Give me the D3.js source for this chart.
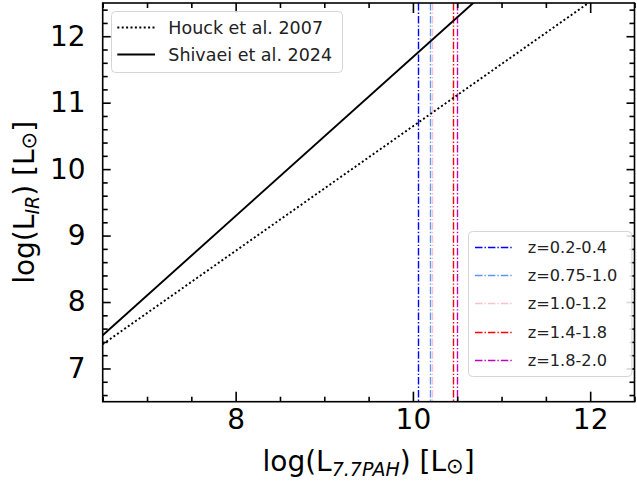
<!DOCTYPE html>
<html><head><meta charset="utf-8">
<script src="https://cdn.jsdelivr.net/npm/d3@7"></script>
<style>
body{margin:0;background:#fff;}
svg{display:block;font-family:"DejaVu Sans",sans-serif;}
</style></head>
<body><svg id="c" width="637" height="483"></svg>
<script>
// ---- data ----
const xDomain = [6.5, 12.5];
const yDomain = [6.5, 12.5];
const xTicks = [8, 10, 12];
const yTicks = [7, 8, 9, 10, 11, 12];
const relNames = ["Houck et al. 2007", "Shivaei et al. 2024"];
const houckX = [6.5, 11.98];
const houckY = [7.365, 12.5];
const shivaeiX = [6.5, 10.68];
const shivaeiY = [7.5, 12.5];
const zLabels = ["z=0.2-0.4", "z=0.75-1.0", "z=1.0-1.2", "z=1.4-1.8", "z=1.8-2.0"];
const zValues = [10.056, 10.19, 10.215, 10.45, 10.494];
const zColors = ["#0000ff", "#6495ed", "#ffc0cb", "#ff0000", "#bf00bf"];

// ---- layout ----
const L = 102.7, R = 634.5, T = 3, B = 401.7;
const svg = d3.select("#c");
const x = d3.scaleLinear().domain(xDomain).range([L, R]);
const y = d3.scaleLinear().domain(yDomain).range([B, T]);
const DASHDOT = "7.5,2,1.4,2";
const DOTS = "2,2.4";

svg.append("defs").append("clipPath").attr("id", "clip")
  .append("rect").attr("x", L).attr("y", T).attr("width", R - L).attr("height", B - T);

const plot = svg.append("g").attr("clip-path", "url(#clip)");

// vertical lines
zValues.forEach((v, i) => {
  const px = Math.round(x(v)) + 0.5;
  plot.append("line").attr("x1", px).attr("x2", px).attr("y1", T).attr("y2", B)
    .attr("stroke", zColors[i]).attr("stroke-width", 1.4)
    .attr("stroke-dasharray", DASHDOT);
});

const line = d3.line().x(d => x(d[0])).y(d => y(d[1]));
plot.append("path").datum(d3.zip(houckX, houckY)).attr("d", line)
  .attr("fill", "none").attr("stroke", "#000").attr("stroke-width", 1.9)
  .attr("stroke-dasharray", DOTS);
plot.append("path").datum(d3.zip(shivaeiX, shivaeiY)).attr("d", line)
  .attr("fill", "none").attr("stroke", "#000").attr("stroke-width", 1.9);

// axes (ticks inward on all four sides)
const xMinor = d3.range(6.5, 12.51, 0.5).filter(v => !xTicks.includes(v));
const yMinor = d3.range(6.6, 12.51, 0.2).map(v => +v.toFixed(1)).filter(v => !yTicks.includes(v));

function styleAxis(g) {
  g.select(".domain").remove();
  g.selectAll("line").attr("stroke", "#000").attr("stroke-width", 1.6);
}
svg.append("g").attr("transform", `translate(0,${B})`)
  .call(d3.axisBottom(x).tickValues(xTicks).tickSize(-10).tickPadding(7).tickFormat(d3.format("d")))
  .call(styleAxis)
  .call(g => g.selectAll("text").attr("font-size", 28).attr("fill", "#000").attr("font-family", "DejaVu Sans"));
svg.append("g").attr("transform", `translate(0,${B})`)
  .call(d3.axisBottom(x).tickValues(xMinor).tickSize(-5).tickFormat("")).call(styleAxis);
svg.append("g").attr("transform", `translate(0,${T})`)
  .call(d3.axisTop(x).tickValues(xTicks).tickSize(-10).tickFormat("")).call(styleAxis);
svg.append("g").attr("transform", `translate(0,${T})`)
  .call(d3.axisTop(x).tickValues(xMinor).tickSize(-5).tickFormat("")).call(styleAxis);

svg.append("g").attr("transform", `translate(${L},0)`)
  .call(d3.axisLeft(y).tickValues(yTicks).tickSize(-8).tickPadding(17).tickFormat(d3.format("d")))
  .call(styleAxis)
  .call(g => g.selectAll("text").attr("font-size", 28).attr("fill", "#000").attr("font-family", "DejaVu Sans"));
svg.append("g").attr("transform", `translate(${L},0)`)
  .call(d3.axisLeft(y).tickValues(yMinor).tickSize(-5).tickFormat("")).call(styleAxis);
svg.append("g").attr("transform", `translate(${R},0)`)
  .call(d3.axisRight(y).tickValues(yTicks).tickSize(-8).tickFormat("")).call(styleAxis);
svg.append("g").attr("transform", `translate(${R},0)`)
  .call(d3.axisRight(y).tickValues(yMinor).tickSize(-5).tickFormat("")).call(styleAxis);

// spines
svg.append("rect").attr("x", L).attr("y", T).attr("width", R - L).attr("height", B - T)
  .attr("fill", "none").attr("stroke", "#000").attr("stroke-width", 1.6);

// axis labels
const xl = svg.append("text").attr("x", (L + R) / 2).attr("y", 471).attr("text-anchor", "middle")
  .attr("font-size", 28).attr("fill", "#000");
xl.append("tspan").text("log(L");
xl.append("tspan").attr("font-size", 19).attr("font-style", "italic").attr("dy", 5).text("7.7PAH");
xl.append("tspan").attr("dy", -5).text(") [L");
xl.append("tspan").attr("font-size", 21).attr("dy", 2).text("⊙");
xl.append("tspan").attr("dy", -2).text("]");

const yl = svg.append("text").attr("transform", `translate(34,${(T + B) / 2}) rotate(-90)`)
  .attr("text-anchor", "middle").attr("font-size", 28).attr("fill", "#000");
yl.append("tspan").text("log(L");
yl.append("tspan").attr("font-size", 19).attr("font-style", "italic").attr("dy", 5).text("IR");
yl.append("tspan").attr("dy", -5).text(") [L");
yl.append("tspan").attr("font-size", 21).attr("dy", 2).text("⊙");
yl.append("tspan").attr("dy", -2).text("]");

// legend 1
const lg1 = svg.append("g");
lg1.append("rect").attr("x", 111.5).attr("y", 11.5).attr("width", 231).attr("height", 61).attr("rx", 4)
  .attr("fill", "#fff").attr("fill-opacity", 0.85).attr("stroke", "#d6d6d6").attr("stroke-width", 1);
const rel1Styles = [{dash: DOTS, w: 1.9}, {dash: null, w: 1.9}];
relNames.forEach((n, i) => {
  const cy = Math.round(26.7 + i * 27.5) + 0.5;
  const ln = lg1.append("line").attr("x1", 117.3).attr("x2", 155).attr("y1", cy).attr("y2", cy)
    .attr("stroke", "#000").attr("stroke-width", rel1Styles[i].w);
  if (rel1Styles[i].dash) ln.attr("stroke-dasharray", rel1Styles[i].dash);
  lg1.append("text").attr("x", 168.3).attr("y", cy).attr("dy", "0.36em")
    .attr("font-size", 17.5).attr("fill", "#222").text(n);
});

// legend 2
const lg2 = svg.append("g");
lg2.append("rect").attr("x", 468.5).attr("y", 231.5).attr("width", 163.4).attr("height", 145).attr("rx", 4)
  .attr("fill", "#fff").attr("fill-opacity", 0.85).attr("stroke", "#d6d6d6").attr("stroke-width", 1);
zLabels.forEach((n, i) => {
  const cy = Math.round(246.7 + i * 28.33) + 0.5;
  lg2.append("line").attr("x1", 475).attr("x2", 511.7).attr("y1", cy).attr("y2", cy)
    .attr("stroke", zColors[i]).attr("stroke-width", 1.4).attr("stroke-dasharray", DASHDOT);
  lg2.append("text").attr("x", 527.7).attr("y", cy).attr("dy", "0.36em")
    .attr("font-size", 16.2).attr("fill", "#222").text(n);
});
</script></body></html>
